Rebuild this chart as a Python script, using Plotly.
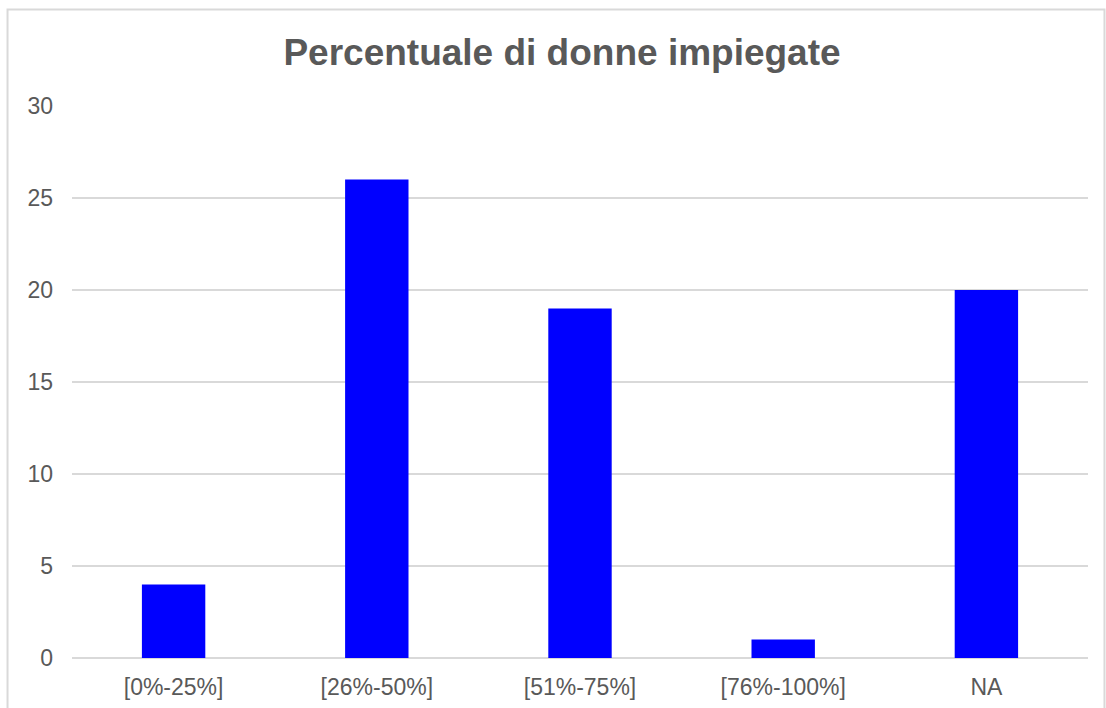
import plotly.graph_objects as go

# Survey results: share of women employed, per bucket
categories = ["[0%-25%]", "[26%-50%]", "[51%-75%]", "[76%-100%]", "NA"]
counts = [4, 26, 19, 1, 20]
y_ticks = [0, 5, 10, 15, 20, 25, 30]

W, H = 1106, 708
L, R, T, B = 72, 17.5, 106, 50
plot_w = W - L - R
plot_h = H - T - B

text_col = "#595959"
grid_col = "#d9d9d9"
font_family = "Liberation Sans, Arial, sans-serif"

fig = go.Figure(
    go.Bar(
        x=categories,
        y=counts,
        marker=dict(color="#0000ff", line=dict(width=0)),
        width=0.312,
    )
)

# Outer chart frame
def px_x(p):
    return (p - L) / plot_w

def px_y(p):
    return (H - B - p) / plot_h

fig.add_shape(
    type="rect", xref="paper", yref="paper",
    x0=px_x(7.5), x1=px_x(1105), y0=px_y(740), y1=px_y(9.5),
    line=dict(color=grid_col, width=2), fillcolor="rgba(0,0,0,0)", layer="below",
)

fig.update_layout(
    width=W, height=H,
    margin=dict(l=L, r=R, t=T, b=B),
    paper_bgcolor="white", plot_bgcolor="white",
    showlegend=False,
    bargap=0.688,
    title=dict(
        text="<b>Percentuale di donne impiegate</b>",
        x=562 / W, xanchor="center",
        y=1 - 52 / H, yanchor="middle", yref="container",
        font=dict(family=font_family, size=37, color=text_col),
    ),
    font=dict(family=font_family, color=text_col),
    xaxis=dict(
        type="category", automargin=False,
        showgrid=False, zeroline=False, showline=False,
        ticks="", tickfont=dict(size=23, color=text_col),
        ticklabelstandoff=13,
    ),
    yaxis=dict(
        range=[0, 30], tickvals=y_ticks, automargin=False,
        showgrid=True, gridcolor=grid_col, gridwidth=1.5,
        zeroline=True, zerolinecolor=grid_col, zerolinewidth=1.5,
        showline=False, ticks="",
        tickfont=dict(size=23, color=text_col),
        ticklabelstandoff=18,
    ),
)

fig.write_html("out.html")
